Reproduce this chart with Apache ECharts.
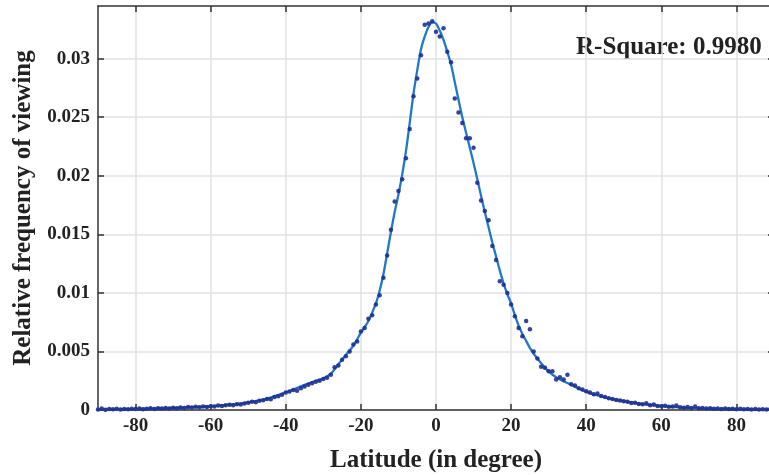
<!DOCTYPE html>
<html>
<head>
<meta charset="utf-8">
<script src="https://cdn.jsdelivr.net/npm/echarts@6/dist/echarts.min.js"></script>
<style>
html,body{margin:0;padding:0;background:#fff;}
#chart{width:769px;height:475px;}
</style>
</head>
<body>
<div id="chart"></div>
<script>
// Tick labels
var xTicks = [-80, -60, -40, -20, 0, 20, 40, 60, 80];
var yTicks = [0, 0.005, 0.01, 0.015, 0.02, 0.025, 0.03];

// Observed points: one per degree of latitude, from -90 to 90
var scatterStart = -90;
var scatterVals = [
  0.00005, 0.00012, 0.00003, 0.00008, 0.00006, 0.00010, 0.00004, 0.00009, 0.00007, 0.00011,
  0.00008, 0.00013, 0.00006, 0.00011, 0.00014, 0.00009, 0.00015, 0.00012, 0.00018, 0.00013,
  0.00019, 0.00016, 0.00022, 0.00018, 0.00025, 0.00021, 0.00027, 0.00024, 0.00030, 0.00026,
  0.00033, 0.00030, 0.00038, 0.00035, 0.00041, 0.00044, 0.00040, 0.00049, 0.00046, 0.00055,
  0.00062, 0.00070, 0.00066, 0.00078, 0.00083, 0.00095, 0.00092, 0.00110, 0.00118, 0.00130,
  0.00150, 0.00158, 0.00170, 0.00165, 0.00185, 0.00200, 0.00215, 0.00228, 0.00242, 0.00250,
  0.00265, 0.00275, 0.00300, 0.00365, 0.00380, 0.00430, 0.00460, 0.00500, 0.00560, 0.00585,
  0.00670, 0.00700, 0.00780, 0.00810, 0.00900, 0.00980, 0.01130, 0.01320, 0.01540, 0.01780,
  0.01870, 0.01970, 0.02150, 0.02400, 0.02680, 0.02830, 0.03030, 0.03290, 0.03300, 0.03320,
  0.03230, 0.03190, 0.03260, 0.03060, 0.02970, 0.02660, 0.02540, 0.02450, 0.02320, 0.02320,
  0.02240, 0.01940, 0.01790, 0.01700, 0.01620, 0.01400, 0.01280, 0.01100, 0.01070, 0.01000,
  0.00900, 0.00800, 0.00700, 0.00630, 0.00760, 0.00690, 0.00500, 0.00440, 0.00370, 0.00360,
  0.00330, 0.00330, 0.00260, 0.00280, 0.00260, 0.00300, 0.00220, 0.00210, 0.00185, 0.00175,
  0.00160, 0.00150, 0.00135, 0.00140, 0.00120, 0.00112, 0.00100, 0.00095, 0.00085, 0.00082,
  0.00075, 0.00070, 0.00060, 0.00062, 0.00052, 0.00050, 0.00058, 0.00040, 0.00046, 0.00035,
  0.00033, 0.00036, 0.00028, 0.00030, 0.00038, 0.00024, 0.00020, 0.00026, 0.00018, 0.00030,
  0.00014, 0.00017, 0.00012, 0.00015, 0.00010, 0.00013, 0.00009, 0.00012, 0.00008, 0.00011,
  0.00007, 0.00010, 0.00006, 0.00009, 0.00005, 0.00008, 0.00004, 0.00007, 0.00005, 0.00006, 0.00004
];

// Fitted curve
var fitLat = [-90,-85,-80,-75,-70,-65,-60,-55,-50,-45,-40,-35,-32,-30,-28,-26,-24,-22,-20,-18,
  -16,-15,-14,-13,-12,-11,-10,-9,-8,-7,-6,-5,-4,-3,-2,-1,0,1,2,3,
  4,5,6,7,8,9,10,11,12,13,14,15,16,17,18,19,20,21,22,23,
  24,25,26,28,30,32,35,40,45,50,55,60,65,70,75,80,85,90];
var fitVal = [0.00004,0.00006,0.00009,0.00013,0.00018,0.00024,0.00032,0.00045,0.00066,0.00098,
  0.00150,0.00215,0.00250,0.00270,0.00310,0.00390,0.00470,0.00550,0.00660,0.00760,
  0.00910,0.01020,0.01160,0.01340,0.01520,0.01690,0.01840,0.02010,0.02210,0.02450,
  0.02700,0.02900,0.03080,0.03190,0.03270,0.03310,0.03300,0.03240,0.03160,0.03060,
  0.02950,0.02800,0.02650,0.02500,0.02370,0.02240,0.02110,0.01970,0.01830,0.01690,
  0.01560,0.01430,0.01310,0.01190,0.01080,0.00990,0.00910,0.00810,0.00720,0.00650,
  0.00590,0.00530,0.00480,0.00400,0.00330,0.00280,0.00230,0.00155,0.00108,0.00075,
  0.00050,0.00033,0.00022,0.00014,0.00010,0.00007,0.00005,0.00004];

var rSquareText = 'R-Square: 0.9980';

var scatterData = scatterVals.map(function (v, i) { return [scatterStart + i, v]; });
var fitData = fitLat.map(function (x, i) { return [x, fitVal[i]]; });

var FONT = 'Liberation Serif';
var TXT = '#222';
var AX = '#333';
var GRID = '#e2e2e2';

var chart = echarts.init(document.getElementById('chart'), null, {renderer: 'canvas'});
chart.setOption({
  animation: false,
  backgroundColor: '#fff',
  grid: {left: 98, top: 6, width: 676, height: 404, containLabel: false, outerBoundsMode: 'none'},
  xAxis: [{
    type: 'value', min: -90, max: 90, position: 'bottom',
    name: 'Latitude (in degree)', nameLocation: 'middle', nameGap: 38,
    nameTextStyle: {fontFamily: FONT, fontWeight: 'bold', fontSize: 25, color: TXT},
    axisLine: {show: true, onZero: false, lineStyle: {color: AX, width: 1.5}},
    axisTick: {show: true, inside: true, length: 6, customValues: xTicks, lineStyle: {color: AX, width: 1.5}},
    axisLabel: {customValues: xTicks, fontFamily: FONT, fontWeight: 'bold', fontSize: 19, color: TXT, margin: 7},
    splitLine: {show: true, lineStyle: {color: GRID, width: 1.5}}
  }, {
    type: 'value', min: -90, max: 90, position: 'top',
    axisLine: {show: true, onZero: false, lineStyle: {color: AX, width: 1.5}},
    axisTick: {show: true, inside: true, length: 6, customValues: xTicks, lineStyle: {color: AX, width: 1.5}},
    axisLabel: {show: false},
    splitLine: {show: false}
  }],
  yAxis: [{
    type: 'value', min: 0, max: 0.0345, position: 'left',
    name: 'Relative frequency of viewing', nameLocation: 'middle', nameGap: 60,
    nameTextStyle: {fontFamily: FONT, fontWeight: 'bold', fontSize: 25, color: TXT},
    axisLine: {show: true, onZero: false, lineStyle: {color: AX, width: 1.5}},
    axisTick: {show: true, inside: true, length: 6, customValues: yTicks, lineStyle: {color: AX, width: 1.5}},
    axisLabel: {customValues: yTicks, fontFamily: FONT, fontWeight: 'bold', fontSize: 19, color: TXT, margin: 8},
    splitLine: {show: true, lineStyle: {color: GRID, width: 1.5}}
  }, {
    type: 'value', min: 0, max: 0.0345, position: 'right',
    axisLine: {show: true, onZero: false, lineStyle: {color: AX, width: 1.5}},
    axisTick: {show: true, inside: true, length: 6, customValues: yTicks, lineStyle: {color: AX, width: 1.5}},
    axisLabel: {show: false},
    splitLine: {show: false}
  }],
  series: [{
    type: 'line', xAxisIndex: 0, yAxisIndex: 0,
    data: fitData, smooth: 0.3, showSymbol: false, symbol: 'none',
    lineStyle: {color: '#1f78c8', width: 2.3}, z: 2
  }, {
    type: 'scatter', xAxisIndex: 0, yAxisIndex: 0,
    data: scatterData, symbol: 'circle', symbolSize: 4.5,
    itemStyle: {color: '#1f2f8f', opacity: 0.9}, z: 3
  }],
  graphic: [{
    type: 'text', x: 576, y: 48,
    style: {text: rSquareText, fontFamily: FONT, fontWeight: 'bold', fontSize: 25, fill: TXT, verticalAlign: 'middle', align: 'left'}
  }]
});
</script>
</body>
</html>
